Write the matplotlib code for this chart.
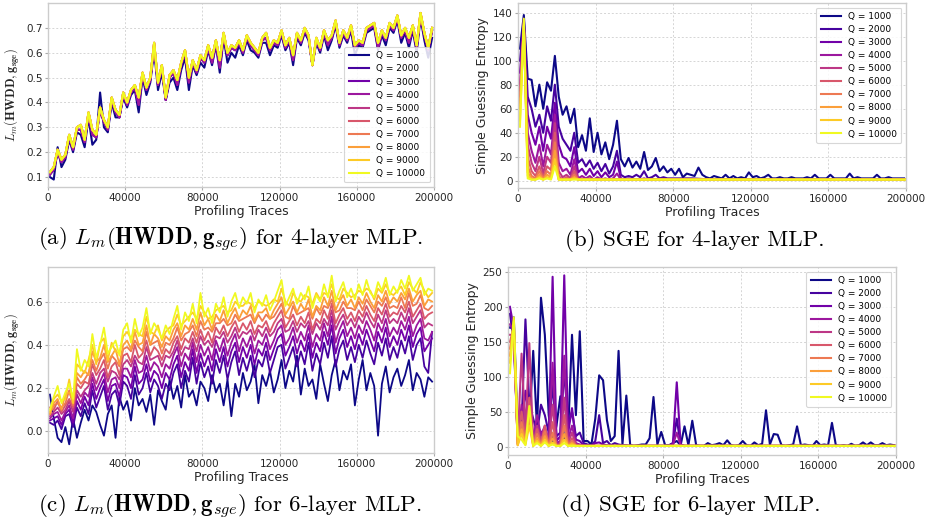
#!/usr/bin/env python3
"""HWDD vs simple guessing entropy for 4- and 6-layer MLPs (2x2 panel)."""

import matplotlib

matplotlib.use("Agg")
import matplotlib.pyplot as plt
import numpy as np

Q_VALUES = [1000, 2000, 3000, 4000, 5000, 6000, 7000, 8000, 9000, 10000]
X_TICKS = [0, 40000, 80000, 120000, 160000, 200000]

# x grids (profiling traces)
X_FINE = np.arange(1000, 200000, 2000)                        # 100 points
X_B_OTHER = np.r_[np.arange(1000, 80000, 2000), np.arange(90000, 200001, 10000)]
X_D_OTHER = np.r_[np.arange(1000, 100000, 2000), np.arange(110000, 200001, 10000)]

# ---- (a) L_m, 4-layer MLP ----
a_q1000 = [
    0.10, 0.09, 0.22, 0.14, 0.17, 0.25, 0.20, 0.28, 0.27, 0.22,
    0.34, 0.23, 0.25, 0.44, 0.30, 0.28, 0.40, 0.34, 0.34, 0.42,
    0.38, 0.43, 0.45, 0.36, 0.50, 0.43, 0.48, 0.61, 0.45, 0.52,
    0.41, 0.48, 0.50, 0.45, 0.53, 0.58, 0.45, 0.55, 0.51, 0.56,
    0.54, 0.61, 0.55, 0.63, 0.52, 0.66, 0.56, 0.60, 0.58, 0.63,
    0.59, 0.65, 0.61, 0.60, 0.58, 0.64, 0.64, 0.59, 0.63, 0.62,
    0.67, 0.61, 0.64, 0.55, 0.66, 0.63, 0.68, 0.65, 0.55, 0.64,
    0.60, 0.67, 0.61, 0.65, 0.71, 0.62, 0.67, 0.64, 0.69, 0.59,
    0.63, 0.62, 0.68, 0.69, 0.70, 0.61, 0.67, 0.63, 0.70, 0.68,
    0.73, 0.64, 0.68, 0.62, 0.69, 0.60, 0.74, 0.65, 0.58, 0.66,
]
a_q2000_4000 = [
    0.11, 0.13, 0.20, 0.16, 0.18, 0.26, 0.21, 0.29, 0.29, 0.24,
    0.35, 0.27, 0.26, 0.37, 0.32, 0.29, 0.41, 0.36, 0.34, 0.43,
    0.39, 0.44, 0.46, 0.39, 0.51, 0.45, 0.49, 0.63, 0.47, 0.54,
    0.41, 0.50, 0.52, 0.47, 0.55, 0.60, 0.48, 0.56, 0.52, 0.58,
    0.56, 0.62, 0.56, 0.64, 0.54, 0.67, 0.59, 0.62, 0.61, 0.64,
    0.60, 0.66, 0.63, 0.61, 0.59, 0.65, 0.66, 0.61, 0.64, 0.63,
    0.68, 0.62, 0.65, 0.57, 0.67, 0.64, 0.69, 0.66, 0.55, 0.65,
    0.61, 0.68, 0.63, 0.66, 0.72, 0.63, 0.68, 0.65, 0.70, 0.62,
    0.64, 0.63, 0.69, 0.70, 0.71, 0.62, 0.68, 0.65, 0.71, 0.69,
    0.74, 0.66, 0.69, 0.64, 0.70, 0.62, 0.75, 0.67, 0.61, 0.69,
]
a_q5000_10000 = [
    0.12, 0.14, 0.21, 0.17, 0.19, 0.27, 0.22, 0.30, 0.31, 0.25,
    0.36, 0.29, 0.27, 0.38, 0.33, 0.30, 0.42, 0.37, 0.35, 0.44,
    0.40, 0.45, 0.47, 0.42, 0.52, 0.46, 0.50, 0.64, 0.48, 0.55,
    0.42, 0.51, 0.53, 0.49, 0.56, 0.61, 0.50, 0.57, 0.53, 0.59,
    0.57, 0.63, 0.58, 0.65, 0.57, 0.68, 0.60, 0.63, 0.62, 0.65,
    0.61, 0.67, 0.64, 0.62, 0.60, 0.66, 0.68, 0.62, 0.65, 0.64,
    0.69, 0.63, 0.66, 0.59, 0.68, 0.65, 0.70, 0.67, 0.55, 0.66,
    0.62, 0.69, 0.65, 0.67, 0.73, 0.64, 0.69, 0.66, 0.71, 0.63,
    0.65, 0.64, 0.70, 0.71, 0.72, 0.64, 0.69, 0.66, 0.72, 0.70,
    0.75, 0.67, 0.70, 0.66, 0.71, 0.63, 0.76, 0.68, 0.62, 0.70,
]

# ---- (b) SGE, 4-layer MLP ----
b_q1000 = [
    110, 138, 85, 84, 62, 80, 60, 82, 75, 104,
    70, 55, 62, 48, 60, 28, 38, 25, 52, 24,
    40, 22, 32, 18, 30, 50, 18, 12, 19, 11,
    16, 10, 24, 9, 12, 19, 8, 12, 7, 10,
    5, 10, 3, 6, 5, 4, 11, 5, 3, 2,
    4, 3, 2, 5, 2, 4, 2, 3, 2, 7,
    3, 4, 2, 3, 5, 2, 2, 3, 2, 2,
    3, 2, 2, 2, 3, 2, 5, 2, 2, 2,
    5, 2, 2, 2, 2, 6, 2, 3, 2, 2,
    2, 2, 5, 2, 2, 3, 2, 2, 2, 2,
]
b_q2000 = [
    100, 135, 70, 60, 45, 55, 40, 62, 50, 80,
    45, 35, 30, 25, 40, 15, 18, 12, 17, 10,
    15, 8, 14, 6, 12, 25, 5, 3, 4, 3,
    5, 3, 8, 2, 3, 5, 2, 3, 2, 2,
    2, 1, 1, 1, 1, 1, 1, 1, 1, 1, 1, 1,
]
b_q3000 = [
    90, 133, 55, 40, 30, 45, 25, 45, 35, 65,
    30, 20, 18, 12, 28, 7, 10, 5, 10, 4,
    8, 3, 7, 3, 5, 16, 2, 1, 2, 1,
    1, 1, 2, 1, 1, 1, 1, 1, 1, 1,
    1, 1, 1, 1, 1, 1, 1, 1, 1, 1, 1, 1,
]
b_q4000 = [
    80, 132, 40, 25, 15, 30, 12, 30, 22, 55,
    15, 8, 10, 5, 18, 2, 4, 2, 4, 1,
    3, 1, 2, 1, 2, 6, 1, 1, 1, 1,
    1, 1, 1, 1, 1, 1, 1, 1, 1, 1,
    1, 1, 1, 1, 1, 1, 1, 1, 1, 1, 1, 1,
]
# first 20 points (1000..39000) of Q >= 5000; afterwards they sit on b_flat_tail
b_head_q5000 = [75, 131, 30, 15, 8, 20, 6, 20, 15, 48, 8, 3, 5, 2, 12, 1, 2, 1, 2, 1]
b_head_q6000 = [70, 130, 20, 8, 4, 12, 3, 12, 9, 40, 4, 1, 3, 1, 8, 1, 1, 1, 1, 1]
b_head_q7000 = [65, 130, 12, 4, 2, 8, 2, 8, 5, 32, 2, 1, 2, 1, 5, 1, 1, 1, 1, 1]
b_head_q8000 = [60, 129, 7, 2, 1, 5, 1, 5, 3, 25, 1, 1, 1, 1, 3, 1, 1, 1, 1, 1]
b_head_q9000 = [50, 129, 4, 1, 1, 3, 1, 3, 2, 18, 1, 1, 1, 1, 2, 1, 1, 1, 1, 1]
b_head_q10000 = [45, 135, 2, 1, 1, 2, 1, 2, 1, 12, 1, 1, 1, 1, 1, 1, 1, 1, 1, 1]
b_flat_tail = [
    1, 1, 1, 1, 1, 1, 1, 1, 1, 1,
    1, 1, 1, 1, 1, 1, 1, 1, 1, 1,
    1, 1, 1, 1, 1, 1, 1, 1, 1, 1, 1, 1,
]

# ---- (c) L_m, 6-layer MLP ----
c_q1000 = [
    0.17, 0.06, -0.03, -0.05, 0.02, -0.06, 0.06, -0.03, 0.04, 0.10,
    0.05, 0.12, 0.09, 0.03, -0.02, 0.08, 0.12, -0.03, 0.16, 0.10,
    0.14, 0.05, 0.20, 0.12, 0.15, 0.09, 0.17, 0.03, 0.19, 0.14,
    0.10, 0.24, 0.15, 0.21, 0.11, 0.26, 0.16, 0.19, 0.12, 0.23,
    0.20, 0.14, 0.26, 0.18, 0.22, 0.12, 0.24, 0.07, 0.22, 0.16,
    0.27, 0.19, 0.23, 0.31, 0.13, 0.26, 0.21, 0.28, 0.18, 0.24,
    0.33, 0.20, 0.28, 0.23, 0.35, 0.17, 0.29, 0.21, 0.24, 0.15,
    0.31, 0.22, 0.14, 0.26, 0.33, 0.19, 0.28, 0.24, 0.31, 0.12,
    0.24, 0.33, 0.19, 0.27, 0.21, -0.02, 0.22, 0.30, 0.18, 0.25,
    0.29, 0.21, 0.26, 0.33, 0.19, 0.27, 0.24, 0.16, 0.25, 0.23,
]
c_q2000 = [
    0.04, 0.03, 0.05, 0.01, 0.07, 0.08, 0.02, 0.11, 0.07, 0.13,
    0.08, 0.19, 0.11, 0.16, 0.21, 0.10, 0.17, 0.19, 0.12, 0.23,
    0.21, 0.15, 0.26, 0.17, 0.20, 0.27, 0.18, 0.24, 0.21, 0.15,
    0.22, 0.19, 0.27, 0.31, 0.20, 0.28, 0.23, 0.34, 0.22, 0.32,
    0.25, 0.30, 0.22, 0.33, 0.27, 0.35, 0.24, 0.32, 0.37, 0.26,
    0.34, 0.28, 0.35, 0.25, 0.33, 0.30, 0.37, 0.27, 0.33, 0.39,
    0.40, 0.29, 0.34, 0.39, 0.30, 0.37, 0.31, 0.41, 0.28, 0.36,
    0.31, 0.41, 0.34, 0.44, 0.30, 0.38, 0.42, 0.33, 0.39, 0.32,
    0.40, 0.34, 0.42, 0.36, 0.31, 0.41, 0.35, 0.43, 0.33, 0.39,
    0.34, 0.42, 0.36, 0.44, 0.33, 0.40, 0.43, 0.30, 0.27, 0.46,
]
c_q3000 = [
    0.05, 0.06, 0.07, 0.03, 0.08, 0.10, 0.04, 0.14, 0.10, 0.16,
    0.12, 0.22, 0.15, 0.20, 0.24, 0.14, 0.21, 0.22, 0.16, 0.26,
    0.25, 0.20, 0.30, 0.22, 0.24, 0.31, 0.23, 0.28, 0.26, 0.20,
    0.27, 0.24, 0.31, 0.35, 0.25, 0.32, 0.28, 0.38, 0.27, 0.36,
    0.30, 0.35, 0.28, 0.38, 0.32, 0.39, 0.30, 0.37, 0.41, 0.32,
    0.39, 0.34, 0.40, 0.31, 0.38, 0.35, 0.41, 0.33, 0.38, 0.43,
    0.45, 0.35, 0.39, 0.44, 0.36, 0.42, 0.37, 0.45, 0.34, 0.41,
    0.37, 0.46, 0.40, 0.49, 0.36, 0.43, 0.47, 0.39, 0.44, 0.38,
    0.45, 0.40, 0.47, 0.42, 0.37, 0.46, 0.41, 0.48, 0.39, 0.44,
    0.40, 0.47, 0.42, 0.49, 0.39, 0.45, 0.48, 0.37, 0.40, 0.43,
]
c_q4000 = [
    0.06, 0.08, 0.09, 0.05, 0.09, 0.12, 0.06, 0.17, 0.13, 0.18,
    0.16, 0.25, 0.19, 0.23, 0.27, 0.18, 0.24, 0.25, 0.20, 0.29,
    0.29, 0.25, 0.33, 0.27, 0.28, 0.35, 0.28, 0.32, 0.30, 0.25,
    0.31, 0.29, 0.35, 0.39, 0.30, 0.36, 0.33, 0.41, 0.32, 0.40,
    0.35, 0.39, 0.33, 0.42, 0.37, 0.43, 0.35, 0.41, 0.45, 0.37,
    0.43, 0.39, 0.44, 0.36, 0.42, 0.40, 0.45, 0.38, 0.42, 0.47,
    0.49, 0.40, 0.43, 0.48, 0.41, 0.46, 0.42, 0.49, 0.39, 0.45,
    0.42, 0.50, 0.44, 0.53, 0.41, 0.47, 0.51, 0.44, 0.48, 0.43,
    0.49, 0.45, 0.51, 0.47, 0.42, 0.50, 0.46, 0.52, 0.44, 0.48,
    0.45, 0.51, 0.47, 0.53, 0.44, 0.49, 0.52, 0.43, 0.42, 0.46,
]
c_q5000 = [
    0.07, 0.09, 0.11, 0.08, 0.10, 0.14, 0.09, 0.19, 0.16, 0.19,
    0.21, 0.27, 0.22, 0.27, 0.29, 0.23, 0.28, 0.27, 0.24, 0.31,
    0.33, 0.30, 0.35, 0.32, 0.31, 0.39, 0.33, 0.34, 0.35, 0.30,
    0.35, 0.34, 0.37, 0.42, 0.35, 0.39, 0.38, 0.43, 0.37, 0.44,
    0.40, 0.42, 0.39, 0.44, 0.43, 0.46, 0.41, 0.44, 0.48, 0.43,
    0.46, 0.45, 0.47, 0.42, 0.47, 0.44, 0.48, 0.44, 0.46, 0.50,
    0.52, 0.46, 0.47, 0.51, 0.46, 0.50, 0.48, 0.51, 0.45, 0.50,
    0.47, 0.52, 0.49, 0.56, 0.47, 0.51, 0.54, 0.49, 0.52, 0.48,
    0.53, 0.50, 0.55, 0.51, 0.48, 0.54, 0.50, 0.56, 0.50, 0.52,
    0.50, 0.55, 0.51, 0.57, 0.50, 0.53, 0.56, 0.48, 0.50, 0.49,
]
c_q6000 = [
    0.11, 0.10, 0.14, 0.09, 0.12, 0.15, 0.11, 0.22, 0.20, 0.23,
    0.22, 0.31, 0.26, 0.29, 0.33, 0.25, 0.30, 0.32, 0.26, 0.35,
    0.36, 0.32, 0.40, 0.34, 0.36, 0.42, 0.35, 0.39, 0.37, 0.33,
    0.38, 0.36, 0.41, 0.44, 0.38, 0.43, 0.41, 0.46, 0.41, 0.47,
    0.42, 0.46, 0.41, 0.48, 0.45, 0.49, 0.44, 0.48, 0.51, 0.46,
    0.50, 0.47, 0.51, 0.45, 0.49, 0.48, 0.51, 0.46, 0.50, 0.53,
    0.56, 0.48, 0.51, 0.54, 0.49, 0.53, 0.50, 0.55, 0.47, 0.52,
    0.50, 0.56, 0.52, 0.59, 0.50, 0.54, 0.57, 0.52, 0.55, 0.51,
    0.56, 0.53, 0.58, 0.54, 0.51, 0.57, 0.54, 0.59, 0.53, 0.55,
    0.54, 0.58, 0.55, 0.60, 0.53, 0.56, 0.59, 0.52, 0.54, 0.55,
]
c_q7000 = [
    0.08, 0.12, 0.13, 0.11, 0.13, 0.19, 0.12, 0.25, 0.22, 0.24,
    0.27, 0.33, 0.28, 0.33, 0.36, 0.29, 0.35, 0.33, 0.30, 0.38,
    0.39, 0.37, 0.42, 0.39, 0.37, 0.46, 0.40, 0.41, 0.42, 0.36,
    0.41, 0.40, 0.43, 0.48, 0.42, 0.45, 0.46, 0.49, 0.44, 0.51,
    0.47, 0.48, 0.46, 0.50, 0.50, 0.52, 0.49, 0.50, 0.54, 0.51,
    0.52, 0.53, 0.54, 0.50, 0.54, 0.51, 0.54, 0.52, 0.53, 0.56,
    0.59, 0.53, 0.52, 0.58, 0.54, 0.55, 0.56, 0.57, 0.52, 0.57,
    0.54, 0.58, 0.57, 0.61, 0.55, 0.56, 0.60, 0.57, 0.57, 0.56,
    0.60, 0.56, 0.61, 0.58, 0.55, 0.60, 0.58, 0.62, 0.57, 0.58,
    0.57, 0.62, 0.57, 0.64, 0.58, 0.59, 0.63, 0.57, 0.56, 0.58,
]
c_q8000 = [
    0.08, 0.13, 0.15, 0.10, 0.17, 0.18, 0.14, 0.27, 0.25, 0.28,
    0.26, 0.37, 0.32, 0.34, 0.40, 0.32, 0.35, 0.38, 0.31, 0.40,
    0.42, 0.38, 0.46, 0.40, 0.41, 0.49, 0.40, 0.45, 0.43, 0.39,
    0.44, 0.42, 0.47, 0.50, 0.44, 0.49, 0.47, 0.52, 0.47, 0.55,
    0.49, 0.52, 0.47, 0.54, 0.51, 0.56, 0.50, 0.54, 0.57, 0.52,
    0.56, 0.54, 0.58, 0.51, 0.55, 0.55, 0.57, 0.52, 0.56, 0.59,
    0.62, 0.54, 0.57, 0.60, 0.55, 0.59, 0.56, 0.61, 0.53, 0.58,
    0.56, 0.62, 0.58, 0.65, 0.56, 0.60, 0.63, 0.58, 0.61, 0.57,
    0.62, 0.59, 0.64, 0.60, 0.57, 0.63, 0.60, 0.65, 0.59, 0.62,
    0.60, 0.64, 0.61, 0.66, 0.60, 0.63, 0.65, 0.58, 0.61, 0.60,
]
c_q9000 = [
    0.09, 0.15, 0.17, 0.14, 0.15, 0.24, 0.13, 0.31, 0.29, 0.27,
    0.33, 0.40, 0.31, 0.41, 0.43, 0.33, 0.41, 0.37, 0.36, 0.44,
    0.46, 0.43, 0.47, 0.45, 0.44, 0.53, 0.46, 0.45, 0.49, 0.42,
    0.46, 0.48, 0.49, 0.54, 0.49, 0.51, 0.53, 0.55, 0.52, 0.58,
    0.55, 0.52, 0.53, 0.56, 0.57, 0.58, 0.55, 0.56, 0.60, 0.58,
    0.58, 0.60, 0.59, 0.57, 0.60, 0.59, 0.58, 0.59, 0.61, 0.60,
    0.66, 0.60, 0.58, 0.64, 0.61, 0.60, 0.63, 0.62, 0.59, 0.64,
    0.61, 0.64, 0.63, 0.68, 0.62, 0.61, 0.66, 0.64, 0.62, 0.63,
    0.65, 0.64, 0.66, 0.65, 0.61, 0.66, 0.64, 0.68, 0.64, 0.63,
    0.65, 0.67, 0.63, 0.69, 0.66, 0.64, 0.69, 0.65, 0.62, 0.64,
]
c_q10000 = [
    0.10, 0.16, 0.21, 0.13, 0.18, 0.22, 0.15, 0.38, 0.28, 0.33,
    0.30, 0.45, 0.34, 0.40, 0.48, 0.36, 0.39, 0.42, 0.35, 0.47,
    0.50, 0.41, 0.52, 0.44, 0.48, 0.57, 0.45, 0.50, 0.47, 0.43,
    0.49, 0.45, 0.52, 0.58, 0.47, 0.55, 0.51, 0.59, 0.50, 0.64,
    0.53, 0.57, 0.50, 0.59, 0.55, 0.62, 0.53, 0.60, 0.64, 0.57,
    0.62, 0.59, 0.64, 0.55, 0.61, 0.58, 0.63, 0.56, 0.60, 0.65,
    0.70, 0.58, 0.62, 0.66, 0.59, 0.64, 0.61, 0.67, 0.57, 0.63,
    0.60, 0.68, 0.62, 0.72, 0.60, 0.65, 0.69, 0.62, 0.66, 0.61,
    0.68, 0.63, 0.70, 0.64, 0.62, 0.69, 0.65, 0.71, 0.63, 0.67,
    0.64, 0.70, 0.66, 0.72, 0.65, 0.68, 0.71, 0.63, 0.66, 0.65,
]

# ---- (d) SGE, 6-layer MLP ----
d_q1000 = [
    170, 185, 20, 15, 40, 30, 137, 25, 213, 160,
    45, 5, 30, 72, 10, 20, 160, 45, 165, 8,
    8, 3, 40, 102, 95, 38, 8, 15, 137, 3,
    73, 2, 1, 2, 3, 3, 12, 71, 3, 21,
    2, 2, 5, 8, 2, 29, 2, 37, 2, 1,
    1, 5, 2, 3, 5, 2, 9, 2, 1, 2,
    8, 2, 1, 6, 2, 4, 52, 3, 18, 17,
    2, 1, 2, 3, 29, 2, 3, 2, 1, 8,
    2, 3, 2, 34, 2, 1, 2, 1, 4, 1,
    2, 6, 2, 6, 2, 2, 5, 2, 3, 2,
]
d_q2000 = [
    190, 150, 15, 30, 182, 60, 40, 20, 60, 45,
    20, 90, 15, 20, 110, 30, 50, 15, 20, 5,
    3, 2, 8, 45, 5, 8, 2, 5, 3, 2,
    2, 1, 1, 1, 1, 1, 1, 1, 1, 1,
    1, 1, 3, 40, 2, 1, 1, 1, 1, 1,
    1, 1, 1, 1, 1, 1, 1, 1, 1, 1,
]
d_q3000 = [
    200, 170, 10, 20, 80, 40, 15, 30, 20, 25,
    10, 243, 8, 15, 245, 20, 55, 10, 8, 2,
    2, 1, 5, 6, 3, 2, 1, 1, 1, 1,
    1, 1, 1, 1, 1, 1, 1, 1, 1, 1,
    1, 1, 5, 92, 3, 1, 1, 1, 1, 1,
    1, 1, 1, 1, 1, 1, 1, 1, 1, 1,
]
d_q4000 = [
    175, 165, 8, 60, 30, 70, 10, 45, 15, 30,
    5, 120, 5, 8, 130, 10, 30, 5, 3, 1,
    1, 1, 1, 1, 1, 1, 1, 1, 1, 1,
    1, 1, 1, 1, 1, 1, 1, 1, 1, 1,
    1, 1, 2, 20, 2, 1, 1, 1, 1, 1,
    1, 1, 1, 1, 1, 1, 1, 1, 1, 1,
]
# first 20 points (1000..39000) of Q >= 5000; afterwards they sit on d_flat_tail
d_head_q5000 = [160, 160, 5, 133, 20, 148, 5, 30, 8, 20, 3, 60, 3, 5, 70, 5, 20, 3, 2, 1]
d_head_q6000 = [150, 170, 4, 50, 12, 70, 3, 25, 5, 30, 2, 35, 2, 3, 45, 3, 12, 2, 1, 1]
d_head_q7000 = [140, 175, 3, 35, 8, 50, 2, 18, 3, 22, 1, 20, 1, 2, 30, 2, 8, 1, 1, 1]
d_head_q8000 = [130, 178, 2, 25, 5, 40, 1, 12, 2, 15, 1, 12, 1, 1, 18, 1, 5, 1, 1, 1]
d_head_q9000 = [120, 180, 2, 18, 3, 30, 1, 8, 1, 10, 1, 6, 1, 1, 10, 1, 3, 1, 1, 1]
d_head_q10000 = [105, 185, 15, 10, 2, 58, 1, 5, 1, 6, 1, 3, 1, 1, 5, 1, 1, 1, 1, 1]
d_flat_tail = [
    1, 1, 1, 1, 1, 1, 1, 1, 1, 1,
    1, 1, 1, 1, 1, 1, 1, 1, 1, 1,
    1, 1, 1, 1, 1, 1, 1, 1, 1, 1,
    1, 1, 1, 1, 1, 1, 1, 1, 1, 1,
]

CAPTIONS = [
    r"(a) $L_m(\mathbf{HWDD}, \mathbf{g}_{sge})$ for 4-layer MLP.",
    r"(b) SGE for 4-layer MLP.",
    r"(c) $L_m(\mathbf{HWDD}, \mathbf{g}_{sge})$ for 6-layer MLP.",
    r"(d) SGE for 6-layer MLP.",
]
LM_LABEL = r"$L_m(\mathbf{HWDD}, \mathbf{g}_{\mathbf{sge}})$"
SGE_LABEL = "Simple Guessing Entropy"

COLORS = plt.cm.plasma(np.linspace(0, 1, len(Q_VALUES)))
GRID_COLOR = "#d5d5d5"
SPINE_COLOR = "#cccccc"


def _style(ax, yticks, ylim, ylabel, ylabel_fs):
    ax.set_xlim(0, 200000)
    ax.set_ylim(*ylim)
    ax.set_xticks(X_TICKS)
    ax.set_xticklabels([str(t) for t in X_TICKS])
    ax.set_yticks(yticks)
    ax.grid(True, color=GRID_COLOR, linestyle=(0, (2, 2)), linewidth=0.7)
    ax.set_axisbelow(True)
    for sp in ax.spines.values():
        sp.set_color(SPINE_COLOR)
        sp.set_linewidth(1.0)
    ax.tick_params(labelsize=7.5, length=2.5, width=0.8, color="#aaaaaa",
                   labelcolor="#262626", pad=1.5)
    ax.set_xlabel("Profiling Traces", fontsize=9, color="#262626", labelpad=1.5)
    ax.set_ylabel(ylabel, fontsize=ylabel_fs, color="#262626", labelpad=3)


def _legend(ax, loc):
    leg = ax.legend(loc=loc, fontsize=6.5, frameon=True, framealpha=0.85,
                    edgecolor="#d0d0d0", fancybox=True, handlelength=2.2,
                    labelspacing=0.45, borderpad=0.5)
    leg.get_frame().set_linewidth(0.8)


def main() -> int:
    plt.rcParams["mathtext.fontset"] = "cm"
    fig = plt.figure(figsize=(9.28, 5.29), dpi=100)

    ax_a = fig.add_axes([0.0517, 0.6465, 0.4160, 0.3478])
    ax_b = fig.add_axes([0.5582, 0.6446, 0.4181, 0.3497])
    ax_c = fig.add_axes([0.0517, 0.1437, 0.4160, 0.3516])
    ax_d = fig.add_axes([0.5474, 0.1399, 0.4181, 0.3554])

    # (a) -- series nearly coincide
    a_series = [a_q1000] + [a_q2000_4000] * 3 + [a_q5000_10000] * 6
    for q, ys, col in zip(Q_VALUES, a_series, COLORS):
        ax_a.plot(X_FINE, ys, color=col, lw=1.5, label=f"Q = {q}")
    _style(ax_a, [0.1, 0.2, 0.3, 0.4, 0.5, 0.6, 0.7], (0.06, 0.80), LM_LABEL, 9)
    _legend(ax_a, "lower right")

    # (b)
    b_series = [
        (X_FINE, b_q1000), (X_B_OTHER, b_q2000), (X_B_OTHER, b_q3000), (X_B_OTHER, b_q4000),
        (X_B_OTHER, b_head_q5000 + b_flat_tail), (X_B_OTHER, b_head_q6000 + b_flat_tail),
        (X_B_OTHER, b_head_q7000 + b_flat_tail), (X_B_OTHER, b_head_q8000 + b_flat_tail),
        (X_B_OTHER, b_head_q9000 + b_flat_tail), (X_B_OTHER, b_head_q10000 + b_flat_tail),
    ]
    for q, (xs, ys), col in zip(Q_VALUES, b_series, COLORS):
        ax_b.plot(xs, ys, color=col, lw=1.5, label=f"Q = {q}")
    _style(ax_b, [0, 20, 40, 60, 80, 100, 120, 140], (-6, 148), SGE_LABEL, 9)
    _legend(ax_b, "upper right")

    # (c)
    c_series = [c_q1000, c_q2000, c_q3000, c_q4000, c_q5000,
                c_q6000, c_q7000, c_q8000, c_q9000, c_q10000]
    for q, ys, col in zip(Q_VALUES, c_series, COLORS):
        ax_c.plot(X_FINE, ys, color=col, lw=1.3, label=f"Q = {q}")
    _style(ax_c, [0.0, 0.2, 0.4, 0.6], (-0.10, 0.76), LM_LABEL, 9)

    # (d)
    d_series = [
        (X_FINE, d_q1000), (X_D_OTHER, d_q2000), (X_D_OTHER, d_q3000), (X_D_OTHER, d_q4000),
        (X_D_OTHER, d_head_q5000 + d_flat_tail), (X_D_OTHER, d_head_q6000 + d_flat_tail),
        (X_D_OTHER, d_head_q7000 + d_flat_tail), (X_D_OTHER, d_head_q8000 + d_flat_tail),
        (X_D_OTHER, d_head_q9000 + d_flat_tail), (X_D_OTHER, d_head_q10000 + d_flat_tail),
    ]
    for q, (xs, ys), col in zip(Q_VALUES, d_series, COLORS):
        ax_d.plot(xs, ys, color=col, lw=1.5, label=f"Q = {q}")
    _style(ax_d, [0, 50, 100, 150, 200, 250], (-12, 257), SGE_LABEL, 9)
    _legend(ax_d, "upper right")

    # sub-figure captions
    cap_pos = [(0.248, 0.546), (0.749, 0.546), (0.248, 0.042), (0.744, 0.045)]
    for (cx, cy), text in zip(cap_pos, CAPTIONS):
        fig.text(cx, cy, text, fontfamily="cmr10", fontsize=16.5,
                 ha="center", va="center")

    fig.savefig("out.png", dpi=100)
    plt.close(fig)
    return 0


if __name__ == "__main__":
    raise SystemExit(main())
